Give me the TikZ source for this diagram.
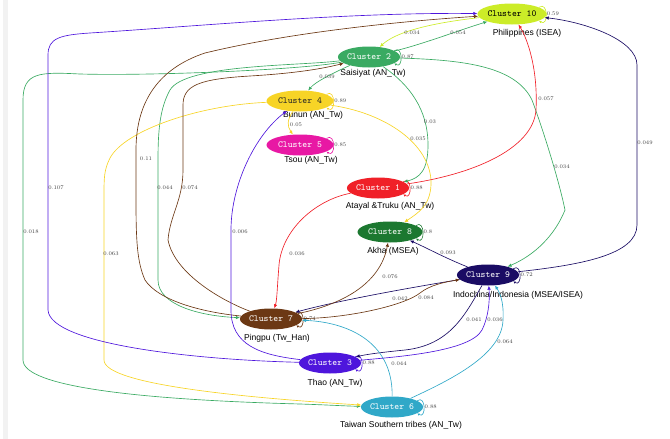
\documentclass[tikz,border=0pt]{standalone}
\usepackage{fontspec}
\setsansfont{Liberation Sans}
\usetikzlibrary{shapes.geometric,arrows.meta}
\definecolor{c10col}{RGB}{204,236,40}
\definecolor{c2col}{RGB}{58,170,98}
\definecolor{c4col}{RGB}{247,212,38}
\definecolor{c5col}{RGB}{232,24,164}
\definecolor{c1col}{RGB}{240,32,40}
\definecolor{c8col}{RGB}{28,120,48}
\definecolor{c9col}{RGB}{26,12,100}
\definecolor{c7col}{RGB}{108,56,20}
\definecolor{c3col}{RGB}{78,22,220}
\definecolor{c6col}{RGB}{48,168,200}
\tikzset{
  cluster/.style={
    ellipse,
    fill=#1,
    text=white,
    inner sep=0pt,
    minimum width=62pt,
    minimum height=21pt,
    font=\ttfamily\fontsize{9.3}{10}\selectfont,
  },
  annotation/.style={
    font=\sffamily\fontsize{8.5}{9}\selectfont,
    inner sep=0pt,
  },
  weight/.style={
    font=\fontsize{5.5}{6}\selectfont,
    text=black!75,
    inner sep=0.5pt,
  },
  link/.style={
    draw=#1,
    line width=0.65pt,
    -{Latex[length=4pt,width=3.5pt]},
  },
  selfloop/.style={
    draw=#1,
    line width=0.6pt,
    -{Latex[length=2.5pt,width=2.5pt]},
  }
}

\begin{document}
\begin{tikzpicture}[x=1pt,y=1pt]
        \useasboundingbox (0,0) rectangle (670,-439);
        \fill[black!5] (3,0) rectangle (8,-439);

        \node [cluster=c10col, text=black] (c10) at (512,-14) {Cluster 10};
        \node [cluster=c2col] (c2) at (369,-57) {Cluster 2};
        \node [cluster=c4col, text=black!85, minimum width=67pt] (c4) at (300,-101) {Cluster 4};
        \node [cluster=c5col, minimum width=67pt] (c5) at (300,-145) {Cluster 5};
        \node [cluster=c1col] (c1) at (378,-188) {Cluster 1};
        \node [cluster=c8col, minimum width=65pt] (c8) at (390,-232) {Cluster 8};
        \node [cluster=c9col] (c9) at (488,-275) {Cluster 9};
        \node [cluster=c7col, minimum width=58pt] (c7) at (271,-319) {Cluster 7};
        \node [cluster=c3col] (c3) at (330,-363) {Cluster 3};
        \node [cluster=c6col, minimum width=60pt] (c6) at (392,-407) {Cluster 6};

        \node [annotation] (t10) at (527,-33) {Philippines (ISEA)};
        \node [annotation] (t2) at (373,-73) {Saisiyat (AN\_Tw)};
        \node [annotation] (t4) at (313,-115) {Bunun (AN\_Tw)};
        \node [annotation] (t5) at (311,-160) {Tsou (AN\_Tw)};
        \node [annotation] (t1) at (390,-206) {Atayal \&Truku (AN\_Tw)};
        \node [annotation] (t8) at (393,-251) {Akha (MSEA)};
        \node [annotation] (t9) at (518,-295) {Indochina/Indonesia (MSEA/ISEA)};
        \node [annotation] (t7) at (277,-338) {Pingpu (Tw\_Han)};
        \node [annotation] (t3) at (335,-383) {Thao (AN\_Tw)};
        \node [annotation] (t6) at (401,-425) {Taiwan Southern tribes (AN\_Tw)};

        % self loops
        \foreach \n/\c/\w in {c10/c10col/0.59, c2/c2col/0.87, c4/c4col/0.89, c5/c5col/0.85,
            c1/c1col/0.88, c8/c8col/0.8, c9/c9col/0.72, c7/c7col/0.74, c3/c3col/0.88, c6/c6col/0.88}
            \draw [selfloop=\c] (\n.14) to[out=35, in=-35, looseness=2.2] node[weight, right] (l\n) {\w} (\n.-14);

        % from cluster 10 and 2
        \draw [link=c10col] (c10) .. controls (440,-22) and (398,-30) .. (c2);
        \draw [link=c2col] (c2) .. controls (420,-45) and (460,-30) .. (c10);
        \draw [link=c2col] (c2) .. controls (335,-72) and (315,-82) .. (c4);
        \draw [link=c2col] (c2) .. controls (410,-85) and (428,-110) .. (428,-145) .. controls (428,-170) and (420,-178) .. (c1);
        \draw [link=c2col] (c2) .. controls (460,-60) and (515,-65) .. (532,-100) .. controls (545,-135) and (560,-185) .. (565,-210) .. controls (555,-235) and (535,-255) .. (c9);
        \draw [link=c2col] (c2) .. controls (300,-66) and (185,-64) .. (170,-90) .. controls (160,-108) and (158,-130) .. (158,-160) -- (158,-280) .. controls (158,-305) and (200,-316) .. (c7);
        \draw [link=c2col] (c2) .. controls (300,-70) and (150,-76) .. (80,-74) .. controls (40,-72) and (23,-72) .. (23,-100) -- (23,-360) .. controls (23,-388) and (150,-400) .. (300,-404) .. controls (330,-405) and (345,-406) .. (c6);

        % from cluster 4 and 1
        \draw [link=c4col] (c4) .. controls (287,-120) and (287,-126) .. (c5);
        \draw [link=c4col] (c4) .. controls (380,-112) and (428,-140) .. (431,-180) .. controls (432,-205) and (418,-213) .. (c8);
        \draw [link=c4col] (c4) .. controls (200,-105) and (125,-130) .. (110,-158) .. controls (104,-170) and (104,-178) .. (104,-195) -- (104,-360) .. controls (104,-385) and (250,-398) .. (c6);
        \draw [link=c1col] (c1) .. controls (470,-175) and (533,-150) .. (536,-110) .. controls (538,-70) and (528,-40) .. (c10);
        \draw [link=c1col] (c1) .. controls (315,-200) and (282,-230) .. (279,-265) .. controls (277,-290) and (277,-300) .. (c7);

        % from cluster 9
        \draw [link=c9col] (c9) .. controls (580,-265) and (637,-255) .. (637,-225) -- (637,-65) .. controls (637,-40) and (585,-22) .. (c10);
        \draw [link=c9col] (c9) .. controls (445,-258) and (425,-247) .. (c8);
        \draw [link=c9col] (c9) .. controls (420,-286) and (340,-300) .. (c7);
        \draw [link=c9col] (c9) .. controls (465,-315) and (450,-345) .. (405,-350) .. controls (385,-352) and (368,-354) .. (c3);

        % from cluster 7
        \draw [link=c7col] (c7) .. controls (340,-305) and (380,-285) .. (c8);
        \draw [link=c7col] (c7) .. controls (350,-318) and (405,-305) .. (420,-293) .. controls (430,-285) and (445,-282) .. (c9);
        \draw [link=c7col] (c7) .. controls (225,-302) and (175,-275) .. (168,-240) .. controls (170,-215) and (183,-200) .. (183,-170) -- (183,-105) .. controls (183,-85) and (200,-79) .. (250,-76) .. controls (300,-73) and (325,-68) .. (c2);
        \draw [link=c7col] (c7) .. controls (200,-312) and (158,-300) .. (145,-280) .. controls (137,-262) and (136,-240) .. (136,-200) -- (136,-150) .. controls (136,-100) and (160,-68) .. (205,-53) .. controls (300,-30) and (420,-20) .. (c10);

        % from cluster 6 and 3
        \draw [link=c6col] (c6) .. controls (393,-340) and (345,-322) .. (c7);
        \draw [link=c6col] (c6) .. controls (450,-380) and (502,-355) .. (503,-320) .. controls (504,-302) and (500,-293) .. (c9);
        \draw [link=c3col] (c3) .. controls (395,-357) and (470,-352) .. (482,-330) .. controls (488,-318) and (490,-302) .. (c9);
        \draw [link=c3col] (c3) .. controls (260,-355) and (231,-345) .. (231,-310) -- (231,-230) .. controls (231,-185) and (255,-135) .. (c4);
        \draw [link=c3col] (c3) .. controls (200,-360) and (50,-345) .. (48,-310) -- (48,-55) .. controls (48,-38) and (60,-35) .. (90,-33) .. controls (200,-26) and (350,-12) .. (c10);

        % weights
        \foreach \x/\y/\w [count=\i] in {412/33/0.034, 458/33/0.054, 327/77/0.039, 296/125/0.05,
            418/139/0.035, 430/122/0.03, 546/99/0.057, 562/167/0.034, 645/143/0.049,
            297/254/0.036, 448/253/0.093, 390/277/0.076, 400/299/0.042, 426/298/0.084,
            399/364/0.044, 474/320/0.041, 495/320/0.036, 505/342/0.064, 240/232/0.006,
            56/188/0.107, 31/232/0.018, 111/254/0.063, 165/188/0.044, 190/188/0.074, 146/159/0.11}
            \node [weight] (w\i) at (\x,-\y) {\w};
\end{tikzpicture}
\end{document}
